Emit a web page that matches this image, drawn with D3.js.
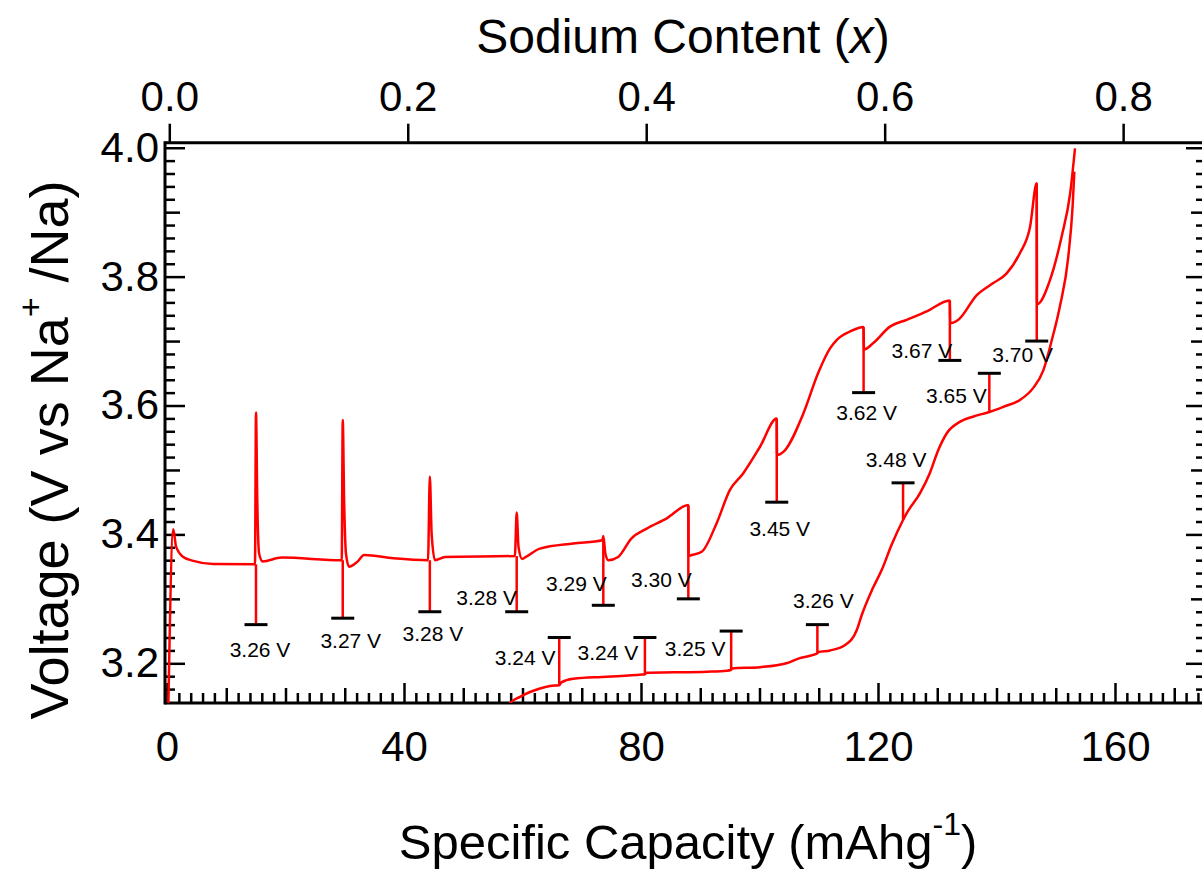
<!DOCTYPE html>
<html>
<head>
<meta charset="utf-8">
<script src="https://cdn.jsdelivr.net/npm/d3@7/dist/d3.min.js"></script>
<style>
  html, body { margin: 0; padding: 0; background: #fff; }
  svg { display: block; font-family: "Liberation Sans", Arial, Helvetica, sans-serif; }
</style>
</head>
<body>
<svg id="chart" width="1202" height="869"></svg>
<script>
// Charge branch (capacity in mAh/g, voltage in V), including the short spikes
const chargeCapacity = [0.2, 1.06, 1.53, 2.75, 4.44, 7.82, 14.85, 15.02, 15.24, 15.55, 16.16, 19.34, 29.49,
  29.66, 29.90, 30.21, 30.72, 32.06, 33.29, 38.21, 44.05, 44.36, 44.67, 45.23, 46.92, 58.71, 59.02, 59.33, 59.94,
  60.56, 62.92, 68.56, 73.48, 73.64, 73.99, 74.50, 76.14, 78.40, 80.96, 84.35, 87.99, 88.04, 88.55, 90.24, 92.75,
  95.01, 97.27, 100.09, 102.91, 102.96, 104.03, 107.42, 109.88, 111.93, 113.06, 115.31, 117.57, 117.62, 119.21,
  121.97, 124.84, 128.23, 132.13, 132.18, 133.56, 136.64, 139.46, 141.72, 143.92, 145.66, 146.79, 146.84,
  149.04, 150.99, 152.43, 153.25];
const chargeVoltage = [3.12, 3.408, 3.381, 3.365, 3.359, 3.354, 3.3536, 3.589, 3.45, 3.37, 3.358, 3.364, 3.360,
  3.5775, 3.45, 3.37, 3.350, 3.357, 3.368, 3.363, 3.360, 3.490, 3.40, 3.360, 3.365, 3.3665, 3.434, 3.38, 3.362,
  3.365, 3.378, 3.386, 3.391, 3.3975, 3.37, 3.360, 3.365, 3.394, 3.409, 3.425, 3.4456, 3.3665, 3.368, 3.373, 3.417,
  3.469, 3.495, 3.536, 3.580, 3.523, 3.528, 3.588, 3.650, 3.689, 3.702, 3.715, 3.722, 3.687, 3.697,
  3.722, 3.733, 3.746, 3.763, 3.7275, 3.733, 3.771, 3.790, 3.805, 3.836, 3.877, 3.945, 3.757,
  3.795, 3.862, 3.929, 3.999];

// Discharge branch
const dischargeCapacity = [57.6, 57.89, 59.58, 61.27, 62.95, 64.64, 66.20, 66.51, 68.56, 74.20, 80.14, 80.66,
  80.96, 85.47, 91.11, 94.50, 95.22, 95.32, 100.09, 104.54, 106.80, 109.06, 109.77, 109.88, 111.93, 114.39,
  116.44, 117.26, 119.00, 120.64, 122.28, 124.23, 124.85, 127.10, 128.74, 130.18, 131.61, 133.87, 136.13,
  138.79, 141.15, 144.02, 146.17, 147.92, 149.35, 150.68, 152.12, 152.84, 153.14];
const dischargeVoltage = [3.128, 3.138, 3.148, 3.1555, 3.161, 3.1648, 3.166, 3.170, 3.176, 3.179, 3.1825, 3.183,
  3.1855, 3.186, 3.187, 3.1885, 3.190, 3.192, 3.194, 3.200, 3.208, 3.213, 3.2155, 3.2175, 3.220, 3.228,
  3.252, 3.275, 3.314, 3.345, 3.3835, 3.4223, 3.433, 3.464, 3.495, 3.531, 3.557, 3.575, 3.583,
  3.590, 3.598, 3.609, 3.627, 3.655, 3.702, 3.753, 3.831, 3.908, 3.963];

// Relaxation steps on charge: capacity, voltage where the step starts, rest voltage
const chargeStepCapacity = [15.02, 29.66, 44.36, 59.02, 73.64, 87.99, 102.91, 117.57, 132.13, 146.79];
const chargeStepFrom = [3.3536, 3.360, 3.360, 3.3665, 3.391, 3.4456, 3.580, 3.722, 3.763, 3.945];
const chargeStepRest = [3.26, 3.27, 3.28, 3.28, 3.29, 3.30, 3.45, 3.62, 3.67, 3.70];

// Relaxation steps on discharge
const dischargeStepCapacity = [66.20, 80.66, 95.22, 109.77, 124.23, 138.79];
const dischargeStepFrom = [3.166, 3.183, 3.190, 3.2155, 3.4223, 3.590];
const dischargeStepRest = [3.24, 3.24, 3.25, 3.26, 3.48, 3.65];

// Axis ticks
const capacityTicks = [0, 40, 80, 120, 160];
const voltageTicks = [3.2, 3.4, 3.6, 3.8, 4.0];
const sodiumTicks = [0.0, 0.2, 0.4, 0.6, 0.8];

// Label placement relative to each rest bar (px): [dx, dy to baseline]
const chargeLabelOffset = [[4, 32], [8, 30], [3, 29], [-30, -7], [-27, -14], [-27, -12],
  [3, 34], [3, 27], [-28, -2], [-14, 21]];
const dischargeLabelOffset = [[-34, 27], [-37, 22], [-36, 25], [6, -17], [-7, -16], [-33, 30]];

const svg = d3.select("#chart");
const plot = { left: 165, right: 1206, top: 142.7, bottom: 703 };

const x = d3.scaleLinear().domain([-0.338, 175.36]).range([plot.left, plot.right]);
const xTop = d3.scaleLinear().domain([-0.0036, 0.8695]).range([plot.left, plot.right]);
const y = d3.scaleLinear().domain([3.1384, 4.0078]).range([plot.bottom, plot.top]);

const RED = "#ff0000";
const tickFont = 42;

// ---------- ticks ----------
function tickLayer(sel) {
  sel.select(".domain").remove();
  sel.selectAll(".tick line").attr("stroke", "#000").attr("stroke-width", 2.5);
}

const yMinor = d3.range(158, 201).map(i => i / 50);
const yMid = yMinor.filter(d => Math.round(d * 50) % 5 === 0 && Math.round(d * 50) % 10 !== 0);
const yMinorOnly = yMinor.filter(d => Math.round(d * 50) % 5 !== 0);

const xAll = d3.range(0, 175, 2);
const xMinorOnly = xAll.filter(d => d % 10 !== 0);
const xMid = d3.range(10, 175, 10).filter(d => d % 40 !== 0);

// left axis (ticks point inward)
[[yMinorOnly, 10], [yMid, 15], [voltageTicks, 20]].forEach(([vals, len]) => {
  svg.append("g").attr("transform", `translate(${plot.left},0)`)
    .call(d3.axisRight(y).tickValues(vals).tickSize(len).tickFormat(""))
    .call(tickLayer);
});
// right axis mirror
[[yMinorOnly, 10], [yMid, 15], [voltageTicks, 20]].forEach(([vals, len]) => {
  svg.append("g").attr("transform", `translate(${plot.right},0)`)
    .call(d3.axisLeft(y).tickValues(vals).tickSize(len).tickFormat(""))
    .call(tickLayer);
});
// bottom axis (ticks point inward)
[[xMinorOnly, 10], [xMid, 15], [capacityTicks, 20]].forEach(([vals, len]) => {
  svg.append("g").attr("transform", `translate(0,${plot.bottom})`)
    .call(d3.axisTop(x).tickValues(vals).tickSize(len).tickFormat(""))
    .call(tickLayer);
});
// top axis (sodium content, ticks point outward)
svg.append("g").attr("transform", `translate(0,${plot.top})`)
  .call(d3.axisTop(xTop).tickValues(sodiumTicks).tickSize(19).tickFormat(""))
  .call(tickLayer);

// tick labels
function labelLayer(sel) {
  sel.select(".domain").remove();
  sel.selectAll(".tick line").remove();
  sel.selectAll("text").attr("fill", "#000").style("font-size", tickFont + "px")
    .style("font-family", '"Liberation Sans", Arial, sans-serif');
}
svg.append("g").attr("transform", `translate(${plot.left},0)`)
  .call(d3.axisLeft(y).tickValues(voltageTicks).tickSize(0).tickPadding(6).tickFormat(d3.format(".1f")))
  .call(labelLayer);
svg.append("g").attr("transform", `translate(0,${plot.bottom})`)
  .call(d3.axisBottom(x).tickValues(capacityTicks).tickSize(0).tickPadding(28).tickFormat(d3.format("d")))
  .call(labelLayer);
svg.append("g").attr("transform", `translate(0,${plot.top})`)
  .call(d3.axisTop(xTop).tickValues(sodiumTicks).tickSize(0).tickPadding(32).tickFormat(d3.format(".1f")))
  .call(labelLayer);

// axis lines
const frame = svg.append("g").attr("stroke", "#000").attr("stroke-width", 3).attr("fill", "none");
frame.append("line").attr("x1", plot.left).attr("x2", plot.left).attr("y1", plot.top - 1.5).attr("y2", plot.bottom + 1.5);
frame.append("line").attr("x1", plot.left).attr("x2", plot.right).attr("y1", plot.bottom).attr("y2", plot.bottom);
frame.append("line").attr("x1", plot.left).attr("x2", plot.right).attr("y1", plot.top).attr("y2", plot.top);
frame.append("line").attr("x1", plot.right).attr("x2", plot.right).attr("y1", plot.top).attr("y2", plot.bottom);

// ---------- curves ----------
svg.append("clipPath").attr("id", "plotclip").append("rect")
  .attr("x", plot.left).attr("y", plot.top).attr("width", plot.right - plot.left).attr("height", plot.bottom - plot.top);

const line = d3.line().x(d => x(d[0])).y(d => y(d[1])).curve(d3.curveMonotoneX);
const curves = svg.append("g").attr("clip-path", "url(#plotclip)");

curves.append("path")
  .attr("d", line(d3.zip(chargeCapacity, chargeVoltage)))
  .attr("fill", "none").attr("stroke", RED).attr("stroke-width", 2.5).attr("stroke-linejoin", "round");
curves.append("path")
  .attr("d", line(d3.zip(dischargeCapacity, dischargeVoltage)))
  .attr("fill", "none").attr("stroke", RED).attr("stroke-width", 2.5).attr("stroke-linejoin", "round");

// ---------- rest-voltage steps ----------
function drawSteps(caps, from, rest, offsets) {
  const g = svg.append("g");
  caps.forEach((c, i) => {
    g.append("line")
      .attr("x1", x(c)).attr("x2", x(c))
      .attr("y1", y(from[i])).attr("y2", y(rest[i]))
      .attr("stroke", RED).attr("stroke-width", 2.5);
  });
  caps.forEach((c, i) => {
    g.append("line")
      .attr("x1", x(c) - 11.5).attr("x2", x(c) + 11.5)
      .attr("y1", y(rest[i])).attr("y2", y(rest[i]))
      .attr("stroke", "#000").attr("stroke-width", 3);
  });
  caps.forEach((c, i) => {
    g.append("text")
      .attr("x", x(c) + offsets[i][0])
      .attr("y", y(rest[i]) + offsets[i][1])
      .attr("text-anchor", "middle")
      .style("font-size", "21px")
      .attr("fill", "#000")
      .text(d3.format(".2f")(rest[i]) + " V");
  });
}
drawSteps(chargeStepCapacity, chargeStepFrom, chargeStepRest, chargeLabelOffset);
drawSteps(dischargeStepCapacity, dischargeStepFrom, dischargeStepRest, dischargeLabelOffset);

// ---------- axis titles ----------
const topTitle = svg.append("text").attr("x", 683).attr("y", 53).attr("text-anchor", "middle")
  .style("font-size", "48px").attr("fill", "#000");
topTitle.append("tspan").text("Sodium Content (");
topTitle.append("tspan").style("font-style", "italic").text("x");
topTitle.append("tspan").text(")");

const bottomTitle = svg.append("text").attr("x", 688).attr("y", 859).attr("text-anchor", "middle")
  .style("font-size", "49px").attr("fill", "#000");
bottomTitle.append("tspan").text("Specific Capacity (mAhg");
bottomTitle.append("tspan").attr("dy", -24).style("font-size", "32px").text("-1");
bottomTitle.append("tspan").attr("dy", 24).text(")");

const leftTitle = svg.append("text").attr("transform", "translate(68,450) rotate(-90)").attr("text-anchor", "middle")
  .style("font-size", "54px").attr("fill", "#000");
leftTitle.append("tspan").text("Voltage (V vs Na");
leftTitle.append("tspan").attr("dy", -26).style("font-size", "34px").text("+");
leftTitle.append("tspan").attr("dy", 26).text(" /Na)");
</script>
</body>
</html>
